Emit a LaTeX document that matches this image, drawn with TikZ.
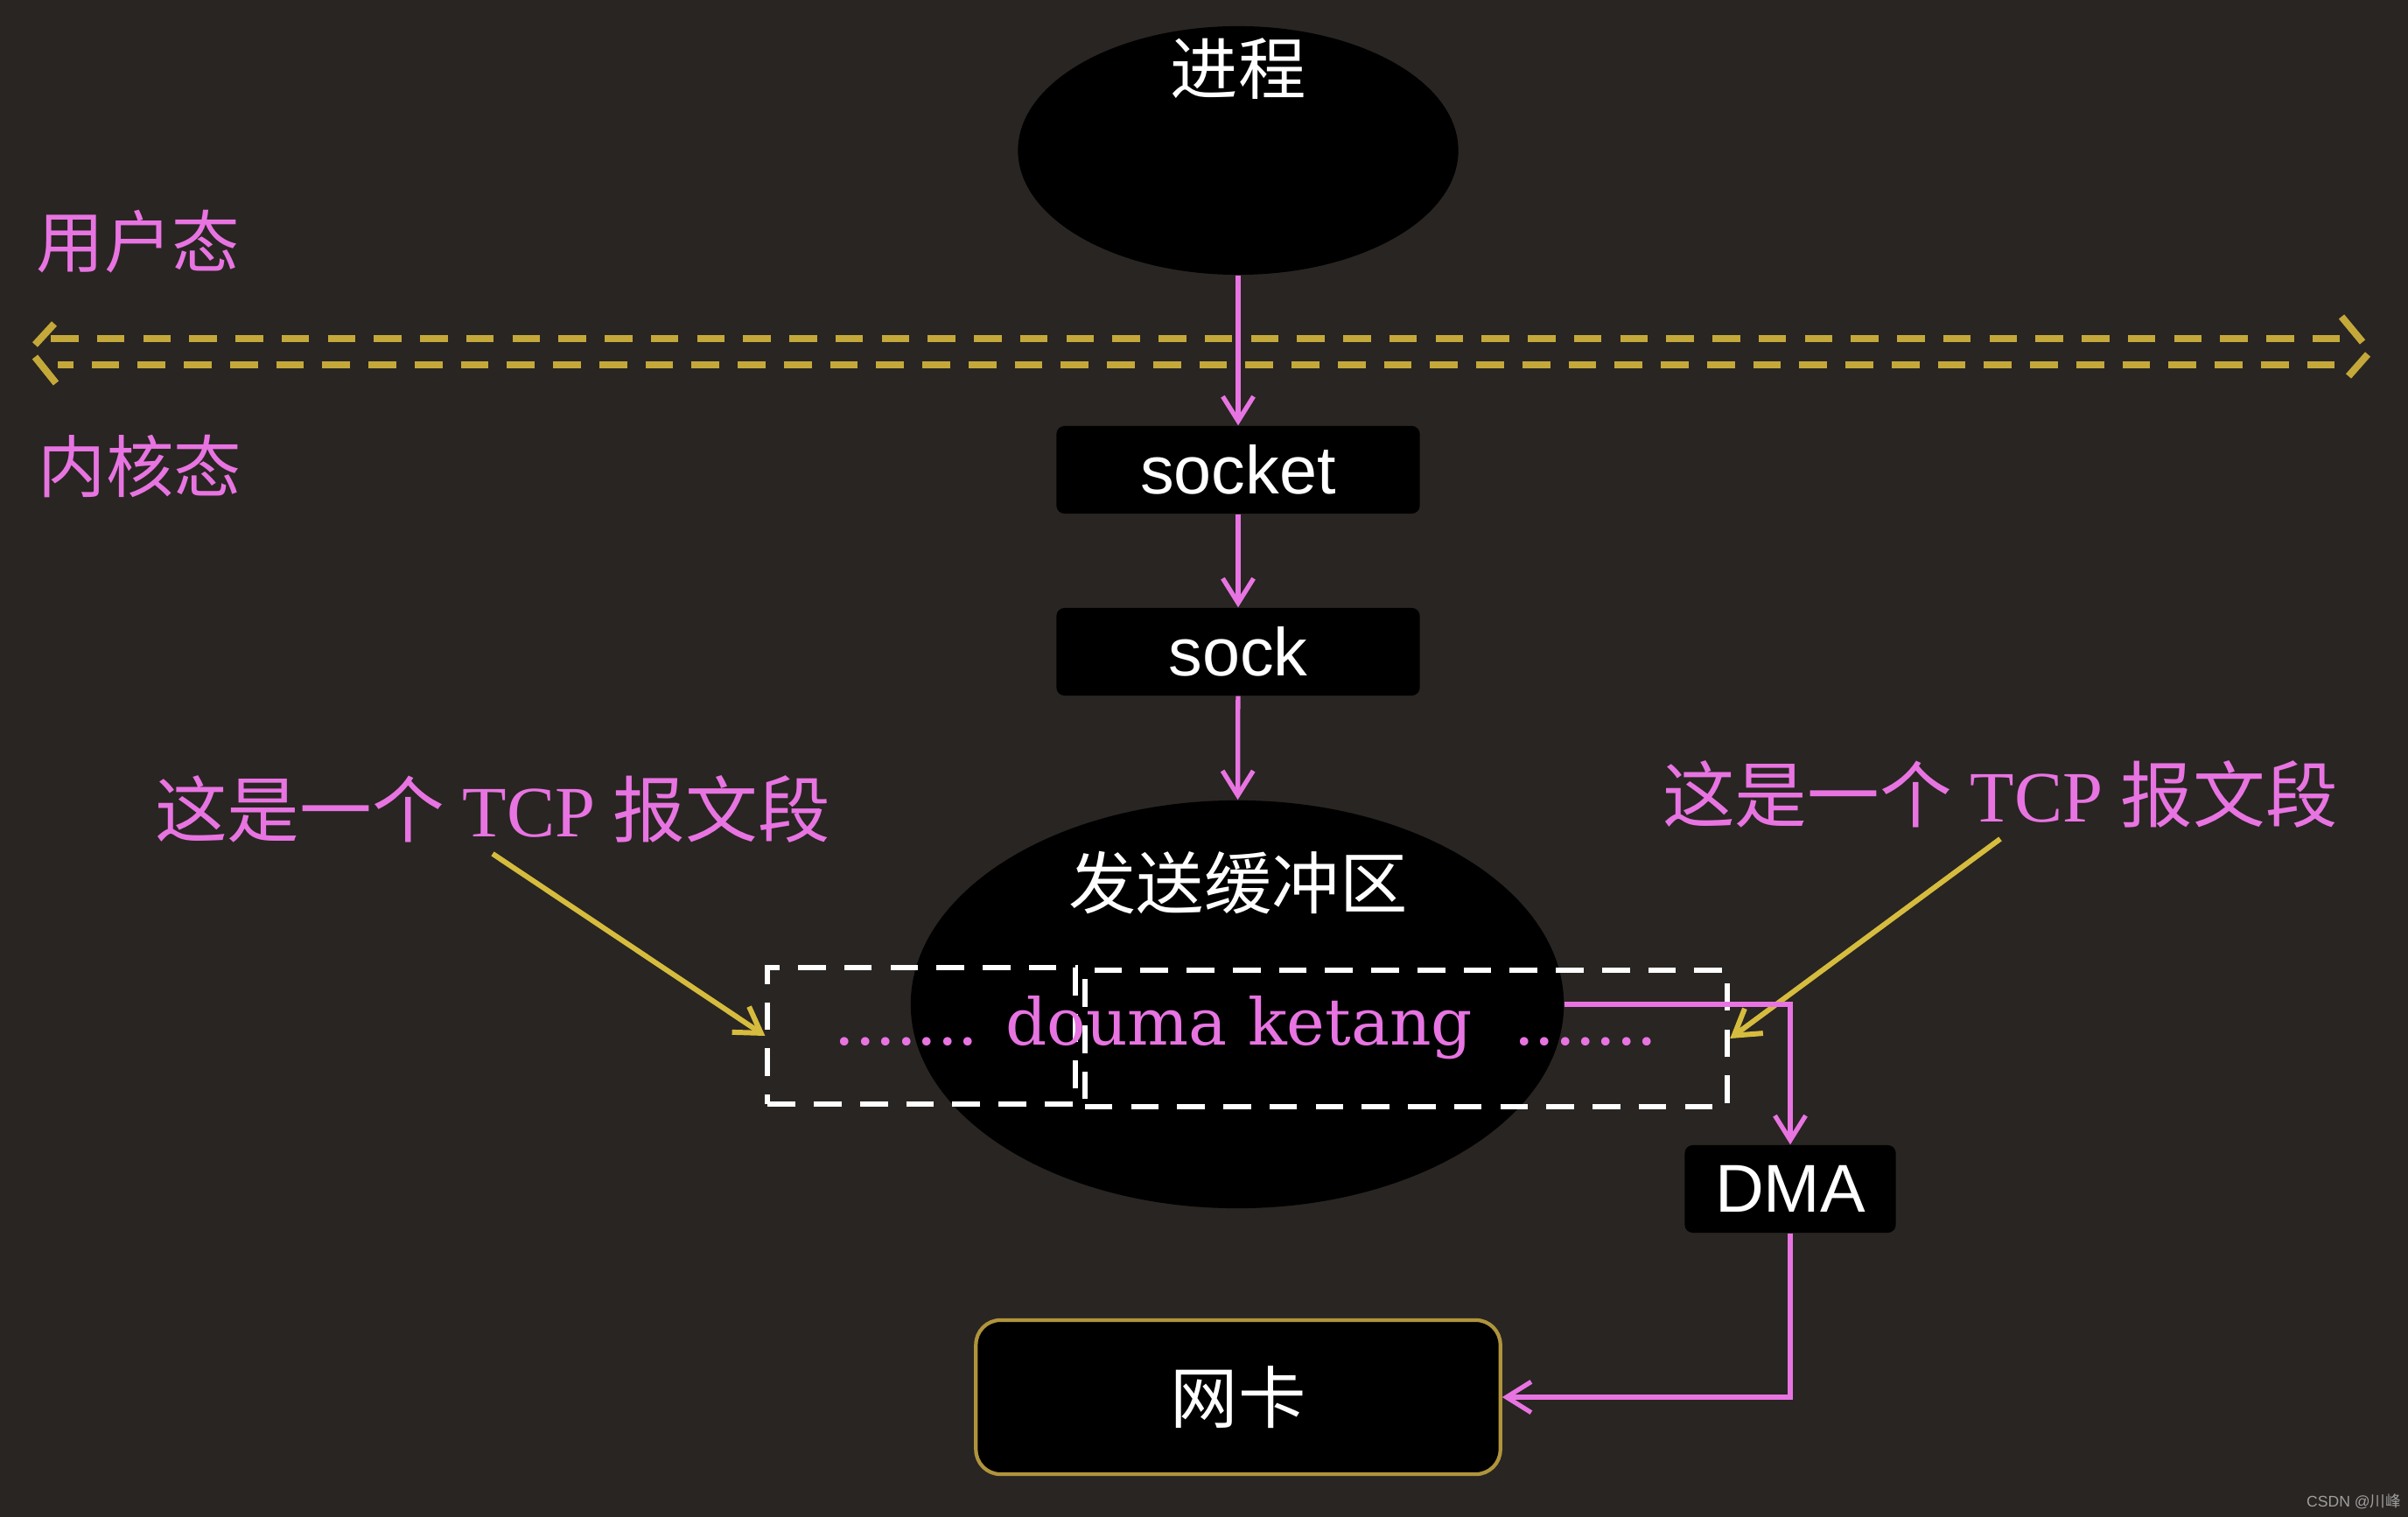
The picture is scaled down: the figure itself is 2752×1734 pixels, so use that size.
\documentclass[tikz,border=0pt]{standalone}
\usepackage{fontspec}
\setmainfont{Liberation Serif}
\newfontfamily\cjk{Noto Sans CJK SC}
\newfontfamily\labfont{Liberation Sans}
\newfontfamily\segfont{DejaVu Serif}
\usetikzlibrary{
    arrows.meta,
    shapes.geometric,
}
\definecolor{bgdark}{RGB}{41,37,34}
\definecolor{pinkline}{RGB}{232,116,226}
\definecolor{goldline}{RGB}{214,188,62}
\definecolor{oliveline}{RGB}{196,168,58}
\definecolor{nicborder}{RGB}{176,148,60}

\begin{document}
\begin{tikzpicture}[x=0.01cm, y=-0.01cm,
    blob/.style={ellipse, fill=black, inner sep=0pt},
    hanzi/.style={text=white, font=\cjk\fontsize{22}{26}\selectfont},
    kbox/.style={fill=black, rounded corners=0.09cm, minimum height=1cm,
      text=white, font=\labfont\fontsize{22}{26}\selectfont},
    nicbox/.style={fill=black, draw=nicborder, line width=1.2pt,
      rounded corners=0.28cm, minimum width=5.99cm, minimum height=1.76cm,
      hanzi},
    mode/.style={text=pinkline, font=\cjk\fontsize{22}{26}\selectfont},
    tag/.style={text=pinkline, font=\fontsize{23.5}{28}\selectfont},
    segbox/.style={draw=white, line width=1.7pt, dash pattern=on 9pt off 6pt},
    flow/.style={pinkline, line width=1.5pt,
      -{Straight Barb[length=8pt,width=10pt]}},
    tagarrow/.style={goldline, line width=1.7pt,
      -{Straight Barb[length=8pt,width=10pt]}},
    lane/.style={oliveline, line width=2.3pt, dash pattern=on 9pt off 6pt},
    lanetip/.style={oliveline, line width=2.3pt},
]
  \useasboundingbox (0,0) rectangle (2752,1734);
  \fill [bgdark] (0,0) rectangle (2752,1734);

  % user space / kernel space
  \node [mode] (user) at (158,276) {用户态};
  \node [mode] (kernel) at (160,533) {内核态};
  \draw [lane] (58,387) -- (2680,387);
  \draw [lane, dash phase=4pt] (66,417) -- (2684,417);
  \draw [lanetip] (62,370) -- (40,394) (40,408) -- (64,438);
  \draw [lanetip] (2676,362) -- (2700,391) (2706,405) -- (2684,430);

  % process and kernel objects
  \node [blob, minimum width=5.03cm, minimum height=2.84cm] (proc) at (1415,172) {};
  \node [hanzi] (proct) at (1415,79) {进程};
  \node [kbox, minimum width=4.15cm] (socket) at (1415,537) {socket};
  \node [kbox, minimum width=4.15cm] (sock) at (1415,745) {sock};
  \node [blob, minimum width=7.46cm, minimum height=4.66cm] (buf) at (1414,1148) {};
  \node [hanzi] (buft) at (1415,1009) {发送缓冲区};

  % segments in the send buffer
  \node [segbox, minimum width=3.51cm, minimum height=1.55cm] (segl) at (1053,1184) {};
  \node [segbox, minimum width=7.34cm, minimum height=1.56cm] (segr) at (1607,1187) {};
  \node [text=pinkline, font=\segfont\fontsize{21}{25}\selectfont] (seg) at (1424,1175)
    {....... douma ketang\ \ .......};

  \node [tag] (tagl) at (563,925) {{\cjk 这是一个} TCP {\cjk 报文段}};
  \node [tag] (tagr) at (2286,908) {{\cjk 这是一个} TCP {\cjk 报文段}};
  \draw [tagarrow] (tagl.south) -- (segl.west);
  \draw [tagarrow] (tagr.south) -- (segr.east);

  \node [kbox, minimum width=2.41cm] (dma) at (2046,1359) {DMA};
  \node [nicbox] (nic) at (1415,1597) {网卡};

  \draw [flow] (proc) -- (socket);
  \draw [flow] (socket) -- (sock);
  \draw [flow] (sock) -- (buf);
  \draw [flow] (buf.east) -| (dma.north);
  \draw [flow] (dma.south) |- (nic.east);

  \node [text=gray!75, font=\labfont\fontsize{5}{6}\selectfont] (mark) at (2690,1716)
    {CSDN @{\cjk 川峰}};
\end{tikzpicture}
\end{document}
